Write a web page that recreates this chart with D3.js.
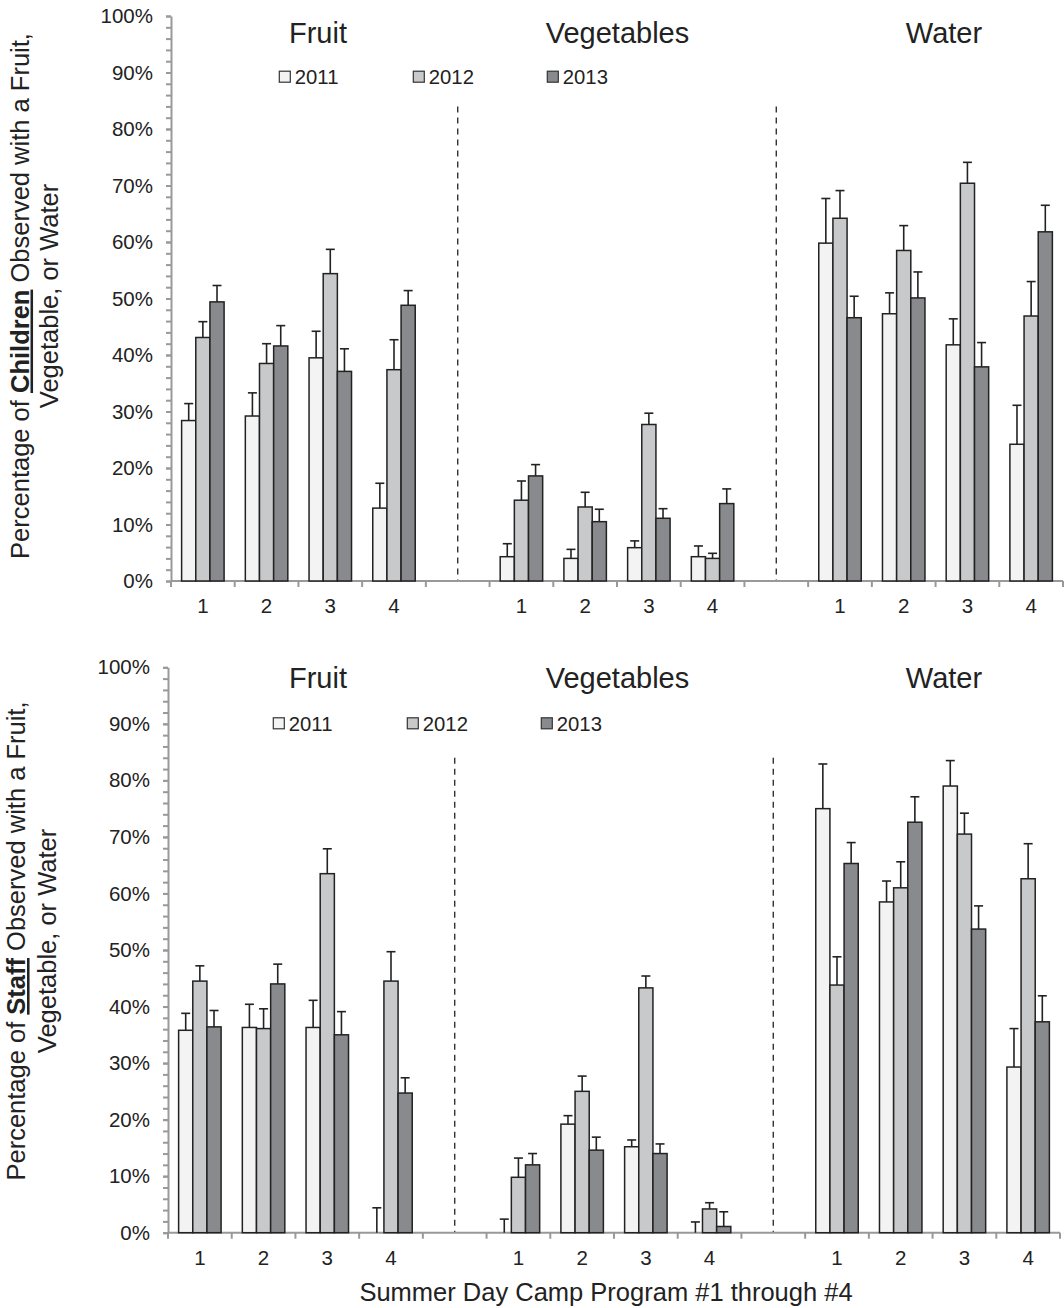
<!DOCTYPE html>
<html>
<head>
<meta charset="utf-8">
<script src="https://cdn.jsdelivr.net/npm/d3@7"></script>
<style>
  body { margin: 0; background: #fff; }
  svg { display: block; }
  text { font-family: "Liberation Sans", Arial, Helvetica, sans-serif; fill: #222; }
</style>
</head>
<body>
<script>
// ---- data (percentages) ----
const groups = ["Fruit", "Vegetables", "Water"];
const programs = ["1", "2", "3", "4"];
const years = ["2011", "2012", "2013"];
const yTicks = [0, 10, 20, 30, 40, 50, 60, 70, 80, 90, 100];

// order: Fruit 1-4, Vegetables 1-4, Water 1-4
const children2011 = [28.4, 29.2, 39.5, 12.9, 4.3, 4.0, 5.9, 4.3, 59.8, 47.3, 41.8, 24.2];
const children2012 = [43.1, 38.5, 54.4, 37.4, 14.3, 13.1, 27.7, 4.0, 64.2, 58.5, 70.4, 46.9];
const children2013 = [49.4, 41.6, 37.1, 48.8, 18.6, 10.5, 11.1, 13.7, 46.6, 50.1, 37.9, 61.8];
const childrenErr2011 = [3.0, 4.1, 4.7, 4.4, 2.3, 1.6, 1.2, 1.9, 7.9, 3.7, 4.6, 6.9];
const childrenErr2012 = [2.8, 3.5, 4.3, 5.3, 3.4, 2.6, 2.0, 0.9, 4.9, 4.4, 3.7, 6.1];
const childrenErr2013 = [2.9, 3.6, 4.0, 2.6, 2.0, 2.2, 1.7, 2.6, 3.8, 4.6, 4.3, 4.7];

const staff2011 = [35.8, 36.3, 36.3, 0, 0, 19.2, 15.2, 0, 75.0, 58.5, 79.0, 29.3];
const staff2012 = [44.5, 36.1, 63.5, 44.5, 9.8, 25.0, 43.3, 4.2, 43.8, 61.0, 70.5, 62.6];
const staff2013 = [36.4, 44.0, 35.0, 24.7, 12.0, 14.6, 14.0, 1.1, 65.3, 72.6, 53.7, 37.3];
const staffErr2011 = [3.0, 4.1, 4.8, 4.4, 2.4, 1.5, 1.2, 1.9, 7.9, 3.7, 4.5, 6.8];
const staffErr2012 = [2.7, 3.5, 4.4, 5.2, 3.4, 2.7, 2.1, 1.1, 5.0, 4.6, 3.7, 6.2];
const staffErr2013 = [2.9, 3.5, 4.1, 2.7, 2.0, 2.3, 1.7, 2.6, 3.7, 4.5, 4.1, 4.6];

const yearColors = ["#f2f3f2", "#c8c9cb", "#898a8d"];

const width = 1064, height = 1308;
const svg = d3.select("body").append("svg")
  .attr("width", width)
  .attr("height", height);

// 14 slots: 4 programs per group with an empty slot between groups
const slots = groups.flatMap((g, i) =>
  programs.map(p => g + "|" + p).concat(i < groups.length - 1 ? ["gap" + i] : []));

function drawPanel(cfg) {
  const g = svg.append("g");
  const x = d3.scaleBand().domain(slots).range([cfg.left, cfg.right]);
  const y = d3.scaleLinear().domain([0, 100]).range([cfg.bottom, cfg.top]);
  const xYear = d3.scaleBand().domain(years).range([0, x.bandwidth()])
    .paddingInner(0).paddingOuter(0.75);

  // flatten values
  const rows = [];
  cfg.values.forEach((vals, yi) => {
    vals.forEach((v, k) => {
      const gi = Math.floor(k / 4), pi = k % 4;
      rows.push({
        slot: groups[gi] + "|" + programs[pi],
        year: years[yi], yi, value: v, err: cfg.errors[yi][k]
      });
    });
  });

  // dashed separators
  g.append("g").selectAll("line")
    .data(slots.filter(s => s.startsWith("gap")))
    .join("line")
    .attr("x1", s => x(s) + x.bandwidth() / 2)
    .attr("x2", s => x(s) + x.bandwidth() / 2)
    .attr("y1", y(84))
    .attr("y2", y(0))
    .attr("stroke", "#333")
    .attr("stroke-width", 1.4)
    .attr("stroke-dasharray", "6,5");

  // y axis: minor ticks every 2%, labels every 10%
  const axisColor = "#999";
  const minor = g.append("g")
    .attr("transform", `translate(${cfg.left},0)`)
    .call(d3.axisLeft(y).tickValues(d3.range(0, 101, 2)).tickSize(5).tickSizeOuter(0).tickFormat(""));
  const major = g.append("g")
    .attr("transform", `translate(${cfg.left},0)`)
    .call(d3.axisLeft(y).tickValues(yTicks).tickSize(5).tickSizeOuter(0).tickPadding(13)
      .tickFormat(d => d + "%"));
  [minor, major].forEach(a => {
    a.selectAll("path, line").attr("stroke", axisColor).attr("stroke-width", 2);
  });
  major.select(".domain").remove();
  major.selectAll("text").attr("font-size", 20.5).style("font-family", null);

  // x axis line + boundary ticks
  const bounds = slots.map(s => x(s)).concat([x.range()[1]]);
  g.append("line")
    .attr("x1", cfg.left).attr("x2", cfg.right)
    .attr("y1", y(0)).attr("y2", y(0))
    .attr("stroke", axisColor).attr("stroke-width", 2);
  g.append("g").selectAll("line")
    .data(bounds)
    .join("line")
    .attr("x1", d => d).attr("x2", d => d)
    .attr("y1", y(0)).attr("y2", y(0) + 6)
    .attr("stroke", axisColor).attr("stroke-width", 2);
  const xl = g.append("g")
    .attr("transform", `translate(0,${y(0)})`)
    .call(d3.axisBottom(x).tickSize(0).tickPadding(17.5)
      .tickFormat(s => s.startsWith("gap") ? "" : s.split("|")[1]));
  xl.select(".domain").remove();
  xl.selectAll("text").attr("font-size", 20.5).style("font-family", null);

  // bars
  g.append("g").selectAll("rect")
    .data(rows.filter(r => r.value > 0))
    .join("rect")
    .attr("x", r => x(r.slot) + xYear(r.year))
    .attr("width", xYear.bandwidth())
    .attr("y", r => y(r.value))
    .attr("height", r => y(0) - y(r.value))
    .attr("fill", r => yearColors[r.yi])
    .attr("stroke", "#222")
    .attr("stroke-width", 1.5);

  // error bars (upper only)
  const eb = g.append("g").attr("stroke", "#222").attr("stroke-width", 1.6);
  const cx = r => x(r.slot) + xYear(r.year) + xYear.bandwidth() / 2;
  eb.selectAll("line.v")
    .data(rows)
    .join("line")
    .attr("class", "v")
    .attr("x1", cx).attr("x2", cx)
    .attr("y1", r => y(r.value)).attr("y2", r => y(r.value + r.err));
  eb.selectAll("line.c")
    .data(rows)
    .join("line")
    .attr("class", "c")
    .attr("x1", r => cx(r) - 4.5).attr("x2", r => cx(r) + 4.5)
    .attr("y1", r => y(r.value + r.err)).attr("y2", r => y(r.value + r.err));

  // group titles
  g.append("g").selectAll("text")
    .data(groups)
    .join("text")
    .attr("x", (d, i) => cfg.titleX[i])
    .attr("y", cfg.titleY)
    .attr("text-anchor", "middle")
    .attr("font-size", 29)
    .text(d => d);

  // legend
  const lg = g.append("g").selectAll("g")
    .data(years)
    .join("g")
    .attr("transform", (d, i) => `translate(${cfg.legendX + i * 134},${cfg.legendY})`);
  lg.append("rect")
    .attr("x", 0).attr("y", -5.5)
    .attr("width", 11).attr("height", 11)
    .attr("fill", (d, i) => yearColors[i])
    .attr("stroke", "#333")
    .attr("stroke-width", 1.2);
  lg.append("text")
    .attr("x", 15.5).attr("y", 7.3)
    .attr("font-size", 20.3)
    .text(d => d);

  // y label (two lines)
  const t1 = g.append("text")
    .attr("transform", `translate(${cfg.yLabelX1},${cfg.yLabelY}) rotate(-90)`)
    .attr("text-anchor", "middle")
    .attr("font-size", 25.5);
  t1.append("tspan").text("Percentage of ");
  t1.append("tspan").attr("font-weight", "bold").attr("text-decoration", "underline").text(cfg.who);
  t1.append("tspan").text(" Observed with a Fruit,");
  g.append("text")
    .attr("transform", `translate(${cfg.yLabelX2},${cfg.yLabelY}) rotate(-90)`)
    .attr("text-anchor", "middle")
    .attr("font-size", 25.5)
    .text("Vegetable, or Water");
}

drawPanel({
  who: "Children",
  values: [children2011, children2012, children2013],
  errors: [childrenErr2011, childrenErr2012, childrenErr2013],
  left: 171, right: 1063, top: 16, bottom: 581,
  titleX: [318, 617.5, 944], titleY: 42.5,
  legendX: 279.3, legendY: 76.7,
  yLabelX1: 28.5, yLabelX2: 57.5, yLabelY: 296
});

drawPanel({
  who: "Staff",
  values: [staff2011, staff2012, staff2013],
  errors: [staffErr2011, staffErr2012, staffErr2013],
  left: 168, right: 1060, top: 667.3, bottom: 1232.7,
  titleX: [318, 617.5, 944], titleY: 688,
  legendX: 273.3, legendY: 723.3,
  yLabelX1: 25, yLabelX2: 55.5, yLabelY: 941
});

svg.append("text")
  .attr("x", 606)
  .attr("y", 1300.7)
  .attr("text-anchor", "middle")
  .attr("font-size", 25.5)
  .text("Summer Day Camp Program #1 through #4");
</script>
</body>
</html>
